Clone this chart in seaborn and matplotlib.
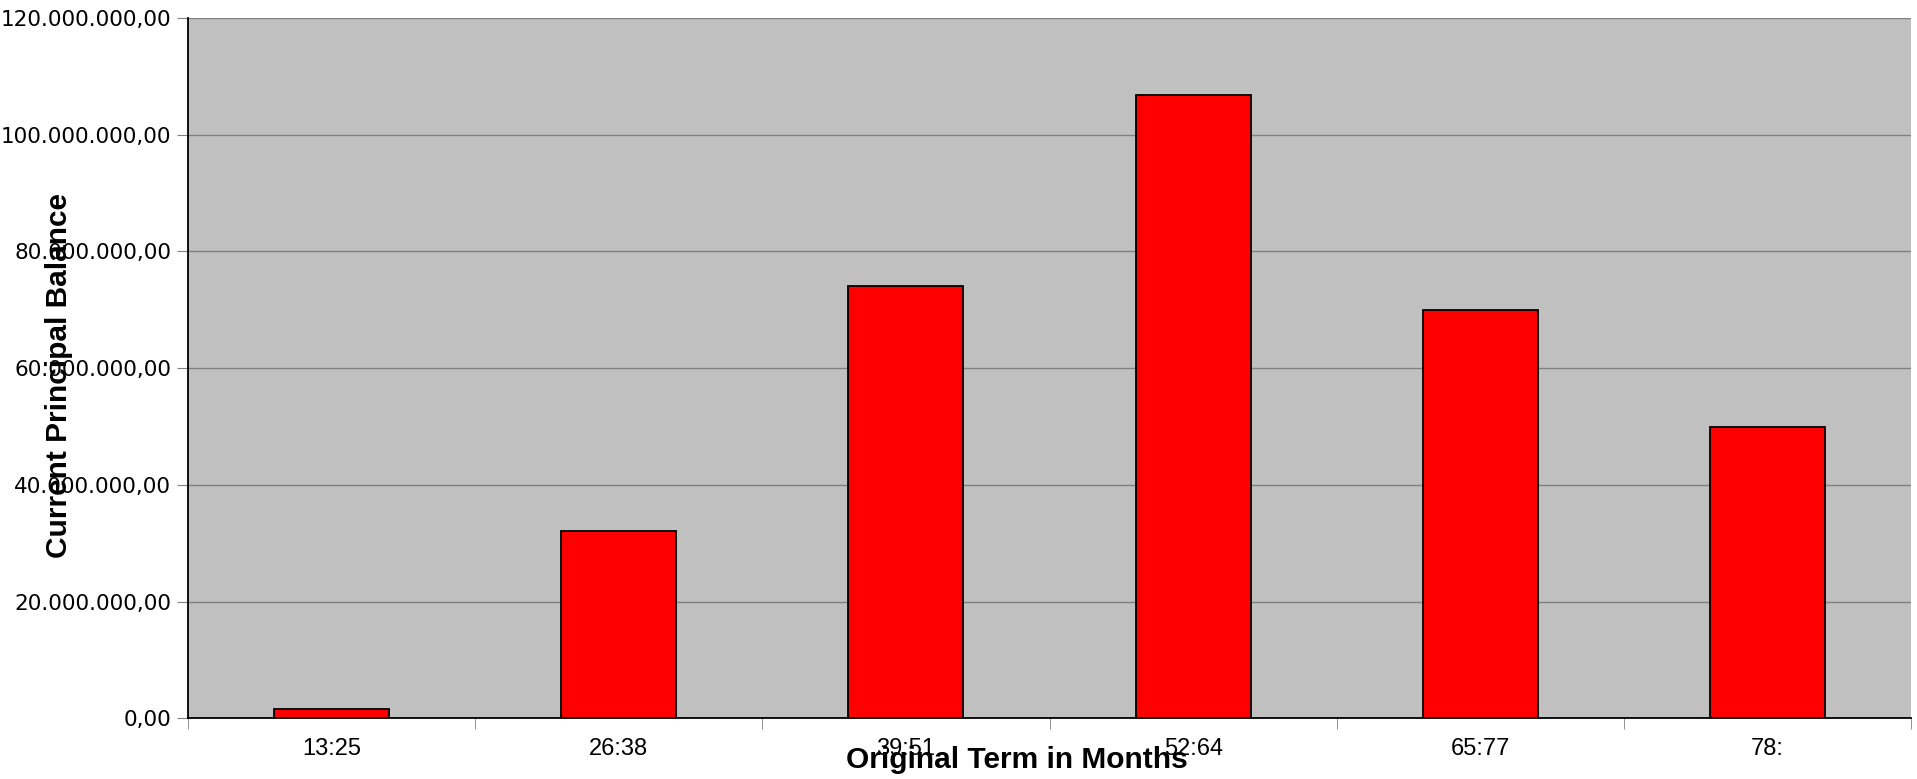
import pandas as pd
import numpy as np
import matplotlib.pyplot as plt
import seaborn as sns
from matplotlib.ticker import FuncFormatter, FixedLocator

# estilo
sns.set_style("white")
plt.rcParams['font.family'] = ['Liberation Sans', 'DejaVu Sans']
plt.rcParams['text.color'] = 'black'
plt.rcParams['axes.labelcolor'] = 'black'
plt.rcParams['xtick.labelcolor'] = 'black'
plt.rcParams['ytick.labelcolor'] = 'black'

# dados
prazos = ['13:25', '26:38', '39:51', '52:64', '65:77', '78:']
saldo = [1.5e6, 32.1e6, 74.0e6, 106.8e6, 69.9e6, 49.9e6]

df = pd.DataFrame({'Prazo': prazos, 'Saldo': saldo})

fig = plt.figure(figsize=(19.17, 7.79), dpi=100)
ax = fig.add_axes([0.098, 0.078, 0.899, 0.899])
ax.set_facecolor('#C0C0C0')

sns.barplot(x='Prazo', y='Saldo', data=df, color='#FF0000', saturation=1,
            width=0.4, edgecolor='black', linewidth=1.3, ax=ax, zorder=3)

ax.set_ylim(0, 120e6)
ax.set_xlim(-0.5, len(prazos) - 0.5)
ax.set_yticks(np.arange(0, 120e6 + 1, 20e6))


def fmt_br(v, pos):
    s = f'{v:,.2f}'
    return s.replace(',', 'X').replace('.', ',').replace('X', '.')


ax.yaxis.set_major_formatter(FuncFormatter(fmt_br))
ax.grid(axis='y', color='#808080', linewidth=1, zorder=0)
ax.set_axisbelow(True)

# marcas do eixo x nas fronteiras entre categorias
ax.xaxis.set_minor_locator(FixedLocator(np.arange(-0.5, len(prazos), 1.0)))
ax.tick_params(axis='x', which='major', length=0, pad=14, labelsize=17)
ax.tick_params(axis='x', which='minor', length=8, color='#808080', bottom=True)
ax.tick_params(axis='y', length=8, color='#808080', left=True, pad=4)
for lbl in ax.get_yticklabels():
    lbl.set_family('DejaVu Sans')
    lbl.set_fontsize(15.5)

for s in ['top', 'right']:
    ax.spines[s].set_visible(False)
for s in ['left', 'bottom']:
    ax.spines[s].set_color('black')
    ax.spines[s].set_linewidth(1.3)

ax.set_xlabel('Original Term in Months', fontsize=21.5, fontweight='bold')
ax.xaxis.set_label_coords(0.481, -0.06)
ax.xaxis.label.set_va('center')
ax.set_ylabel('Current Principal Balance', fontsize=21.5, fontweight='bold')
ax.yaxis.set_label_coords(-0.075, 0.49)
ax.yaxis.label.set_va('center')

fig.savefig('out.png', dpi=100)
